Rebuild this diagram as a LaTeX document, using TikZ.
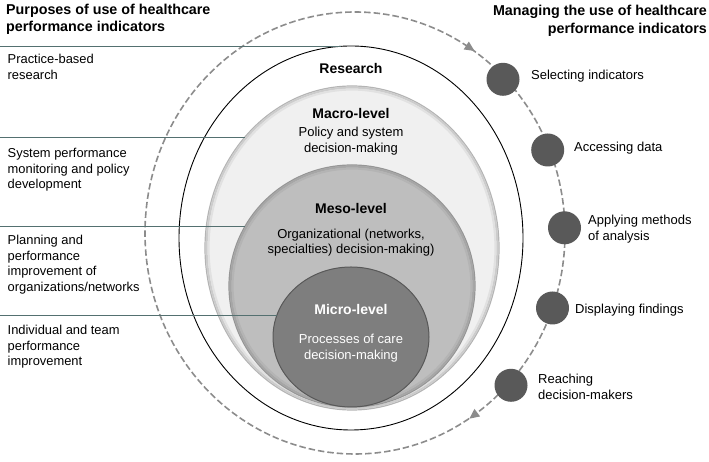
\documentclass[tikz,border=0pt]{standalone}
\usepackage{fontspec}
\setmainfont{Liberation Sans}
\usetikzlibrary{shapes.geometric,arrows.meta,decorations.markings}
\definecolor{lineteal}{RGB}{84,112,112}
\definecolor{dashgray}{RGB}{140,140,140}
\definecolor{dotgray}{RGB}{89,89,89}
\definecolor{macrofill}{RGB}{240,240,240}
\definecolor{macroedge}{RGB}{180,180,180}
\definecolor{mesofill}{RGB}{190,190,190}
\definecolor{mesoedge}{RGB}{150,150,150}
\definecolor{microfill}{RGB}{126,126,126}
\definecolor{microedge}{RGB}{88,88,88}
\tikzset{
  lab/.style={font=\fontsize{12.9}{15.7}\selectfont, align=left, anchor=north west, inner sep=0pt},
  rlab/.style={font=\fontsize{13}{15.5}\selectfont, align=left, anchor=north west, inner sep=0pt},
  ttl/.style={font=\bfseries\fontsize{14.3}{17.5}\selectfont, inner sep=0pt},
  ctr/.style={font=\fontsize{13}{15.5}\selectfont, align=center, anchor=north, inner sep=0pt},
  ctrb/.style={font=\bfseries\fontsize{14}{16}\selectfont, anchor=north, inner sep=0pt},
  ring/.style={ellipse, inner sep=0pt, outer sep=0pt},
  dot/.style={circle, fill=dotgray, minimum size=33pt, inner sep=0pt, outer sep=0pt},
  link/.style={draw=lineteal, line width=0.9pt},
  cyc/.style={draw=dashgray, line width=1.6pt, dash pattern=on 6.5pt off 3pt},
  tipmark/.style={dashgray}
}
\begin{document}
\begin{tikzpicture}[x=1pt,y=1pt]
\useasboundingbox (0,0) rectangle (709,462);
\coordinate (lx) at (0,0);

% managing cycle
\draw[cyc, postaction={decorate, decoration={markings,
   mark=at position 0.163 with {\arrow[tipmark]{Triangle[reversed,length=10pt,width=9pt]}},
   mark=at position 0.847 with {\arrow[tipmark]{Triangle[reversed,length=10pt,width=9pt]}}}}]
   (355,229) ellipse [x radius=210, y radius=221];

% rings
\node[ring, draw=black, line width=0.9pt, minimum width=344pt, minimum height=384pt] (research) at (351,224) {};
\node[ring, fill=macrofill, draw=macroedge, line width=1.2pt, minimum width=294pt, minimum height=324pt] (macro) at (352,214) {};
\draw[draw=macroedge!60!macrofill, line width=2pt] (macro.center) ellipse [x radius=145.4, y radius=160.4];
\draw[draw=macroedge!25!macrofill, line width=2pt] (macro.center) ellipse [x radius=143.4, y radius=158.4];
\node[ring, fill=mesofill, draw=mesoedge, line width=1.2pt, minimum width=246pt, minimum height=242pt] (meso) at (352,176) {};
\draw[draw=mesoedge!60!mesofill, line width=2pt] (meso.center) ellipse [x radius=121.4, y radius=119.4];
\draw[draw=mesoedge!25!mesofill, line width=2pt] (meso.center) ellipse [x radius=119.4, y radius=117.4];
\node[ring, fill=microfill, draw=microedge, line width=1pt, minimum width=156pt, minimum height=140pt] (micro) at (351,125) {};

% purpose lines
\draw[link] (research.93.3 -| lx) -- (research.93.3);
\draw[link] (macro.134.45 -| lx) -- (macro.134.45);
\draw[link] (meso.151.2 -| lx) -- (meso.151.2);
\draw[link] (micro.164.2 -| lx) -- (micro.164.2);

% center texts
\node[ctrb] (tres) at (351,399.3) {Research};
\node[ctrb] (tmac) at (351,354) {Macro-level};
\node[ctr] (tmacd) at (351,335) {Policy and system\\decision-making};
\node[ctrb] (tmes) at (351,259) {Meso-level};
\node[ctr] (tmesd) at (351,233.5) {Organizational (networks,\\specialties) decision-making)};
\node[ctrb, text=white] (tmic) at (351,158) {Micro-level};
\node[ctr, text=white] (tmicd) at (351,128) {Processes of care\\decision-making};

% titles
\node[ttl, anchor=north west, align=left] (tleft) at (6,458.5) {Purposes of use of healthcare\\performance indicators};
\node[ttl, anchor=north east, align=right] (tright) at (707,457) {Managing the use of healthcare\\performance indicators};

% left labels
\node[lab] (p1) at (7.5,408) {Practice-based\\research};
\node[lab] (p2) at (7.5,314) {System performance\\monitoring and policy\\development};
\node[lab] (p3) at (7.5,227) {Planning and\\performance\\improvement of\\organizations/networks};
\node[lab] (p4) at (7.5,137) {Individual and team\\performance\\improvement};

% steps
\node[dot] (d1) at (503,382.7) {};
\node[dot] (d2) at (547.7,312) {};
\node[dot] (d3) at (564.5,234.2) {};
\node[dot] (d4) at (552.5,154) {};
\node[dot] (d5) at (511,76.7) {};
\node[rlab] (s1) at (531,392) {Selecting indicators};
\node[rlab] (s2) at (574,320.3) {Accessing data};
\node[rlab] (s3) at (588,247) {Applying methods\\of analysis};
\node[rlab] (s4) at (575,158) {Displaying findings};
\node[rlab] (s5) at (538,88) {Reaching\\decision-makers};
\end{tikzpicture}
\end{document}
